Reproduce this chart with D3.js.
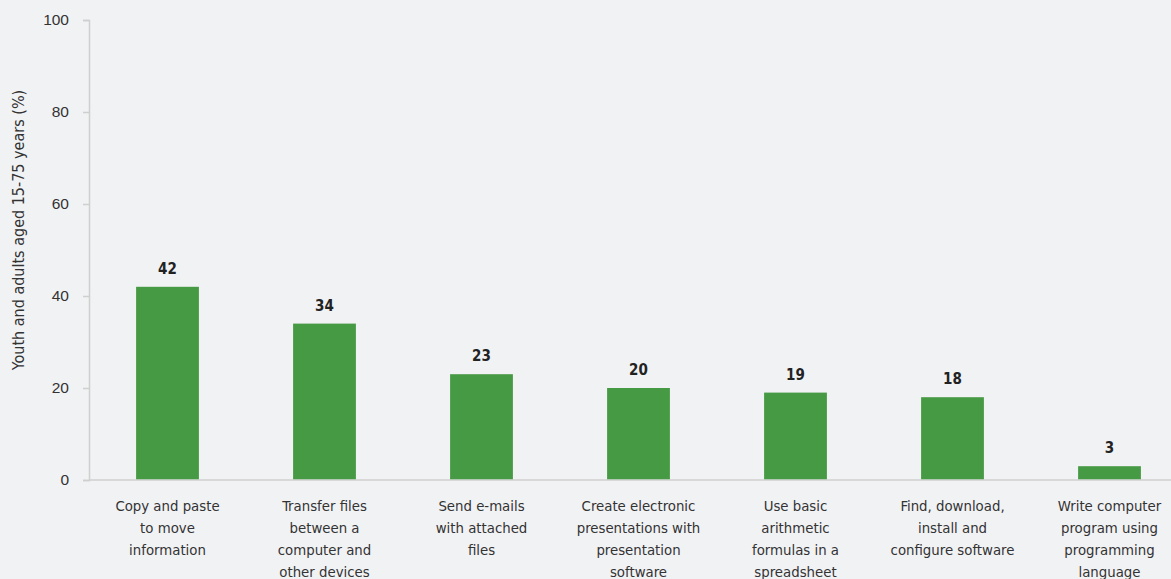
<!DOCTYPE html>
<html>
<head>
<meta charset="utf-8">
<script src="https://cdn.jsdelivr.net/npm/d3@7"></script>
<style>
  html, body { margin: 0; padding: 0; background: #f1f2f4; }
  svg { display: block; font-family: "DejaVu Sans Condensed", "Roboto", sans-serif; }
</style>
</head>
<body>
<svg id="chart" width="1171" height="579"></svg>
<script>
const categories = [
  ["Copy and paste", "to move", "information"],
  ["Transfer files", "between a", "computer and", "other devices"],
  ["Send e-mails", "with attached", "files"],
  ["Create electronic", "presentations with", "presentation", "software"],
  ["Use basic", "arithmetic", "formulas in a", "spreadsheet"],
  ["Find, download,", "install and", "configure software"],
  ["Write computer", "program using", "programming", "language"]
];
const values = [42, 34, 23, 20, 19, 18, 3];
const yTicks = [0, 20, 40, 60, 80, 100];
const yTitle = "Youth and adults aged 15-75 years (%)";

const svg = d3.select("#chart");
const plotLeft = 89, plotTop = 20, plotBottom = 480;
const step = 157;

const x = d3.scaleBand()
  .domain(d3.range(values.length))
  .range([plotLeft, plotLeft + step * values.length])
  .paddingInner(0.6)
  .paddingOuter(0.3);

const y = d3.scaleLinear().domain([0, 100]).range([plotBottom, plotTop]);

// y axis
const yAxis = svg.append("g")
  .attr("transform", `translate(${plotLeft},0)`)
  .call(d3.axisLeft(y).tickValues(yTicks).tickSize(6).tickPadding(14));
yAxis.select(".domain").attr("stroke", "#cfcfcf").attr("stroke-width", 1.5);
yAxis.selectAll(".tick line").attr("stroke", "#cfcfcf").attr("stroke-width", 1.5);
yAxis.selectAll(".tick text").attr("fill", "#333").style("font-size", "15.5px");

// baseline
svg.append("line")
  .attr("x1", plotLeft).attr("x2", 1171)
  .attr("y1", y(0)).attr("y2", y(0))
  .attr("stroke", "#cfcfcf").attr("stroke-width", 1.5);

// bars
svg.selectAll("rect.bar")
  .data(values)
  .join("rect")
  .attr("class", "bar")
  .attr("x", (d, i) => x(i))
  .attr("width", x.bandwidth())
  .attr("y", d => y(d))
  .attr("height", d => y(0) - y(d) - 0.75)
  .attr("fill", "#479a44");

// value labels
svg.selectAll("text.val")
  .data(values)
  .join("text")
  .attr("class", "val")
  .attr("x", (d, i) => x(i) + x.bandwidth() / 2)
  .attr("y", d => y(d) - 13)
  .attr("text-anchor", "middle")
  .attr("fill", "#222")
  .style("font-size", "15px")
  .style("font-weight", "bold")
  .text(d => d);

// category labels
const cat = svg.selectAll("text.cat")
  .data(categories)
  .join("text")
  .attr("class", "cat")
  .attr("x", (d, i) => x(i) + x.bandwidth() / 2)
  .attr("y", 511)
  .attr("text-anchor", "middle")
  .attr("fill", "#333")
  .style("font-size", "14.8px");
cat.selectAll("tspan")
  .data(d => d)
  .join("tspan")
  .attr("x", function () { return d3.select(this.parentNode).attr("x"); })
  .attr("dy", (d, i) => i === 0 ? 0 : 22)
  .text(d => d);

// y axis title
svg.append("text")
  .attr("transform", `translate(24,230) rotate(-90)`)
  .attr("text-anchor", "middle")
  .attr("fill", "#333")
  .style("font-size", "16px")
  .text(yTitle);
</script>
</body>
</html>
